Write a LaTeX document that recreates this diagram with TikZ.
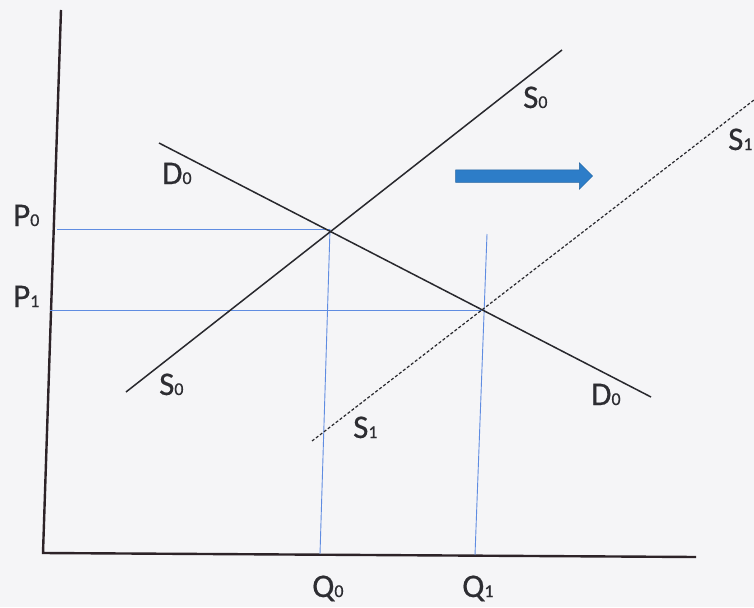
\documentclass[tikz,border=0pt]{standalone}
\usepackage{fontspec}
\setmainfont{Carlito}
\newfontfamily\labfont{Carlito}[FakeBold=0.6]
\usetikzlibrary{shapes.arrows}
\definecolor{bg}{RGB}{245,245,247}
\definecolor{axiscol}{RGB}{45,35,40}
\definecolor{curvecol}{RGB}{40,40,45}
\definecolor{guide}{RGB}{95,140,225}
\definecolor{arrowblue}{RGB}{45,125,200}
\definecolor{labcol}{RGB}{45,45,50}
\newcommand\sublab[2]{#1{\fontsize{18}{18}\selectfont #2}}
\tikzset{
  axisline/.style={draw=axiscol,line width=2.4pt},
  curve/.style={draw=curvecol,line width=1.5pt},
  shifted/.style={draw=curvecol,line width=1.2pt,dash pattern=on 3pt off 2pt},
  guideline/.style={draw=guide,line width=0.9pt},
  lab/.style={font=\labfont\fontsize{33}{33}\selectfont,text=labcol,inner sep=0pt,anchor=base west}
}
\begin{document}
\begin{tikzpicture}[x=1pt,y=-1pt]
\fill[bg] (0,0) rectangle (754,607);
\useasboundingbox (0,0) rectangle (754,607);
% axes
\coordinate (ytop) at (61,10);
\coordinate (origin) at (43,553);
\coordinate (xend) at (696,557);
\draw[axisline] (ytop) -- (origin) -- (xend);
% equilibrium points
\coordinate (E0) at (330,229);
\coordinate (E1) at (482,310);
% guide lines
\coordinate (P0a) at (57,229);
\coordinate (P1a) at (50,310);
\coordinate (Q0b) at (320,554);
\coordinate (Q1t) at (487,234);
\coordinate (Q1b) at (475,555);
\draw[guideline] (P0a) -- (E0);
\draw[guideline] (P1a) -- (E1);
\draw[guideline] (E0) -- (Q0b);
\draw[guideline] (Q1t) -- (Q1b);
% curves
\coordinate (S0a) at (126,392);
\coordinate (S0b) at (562,50);
\coordinate (D0a) at (159,143);
\coordinate (D0b) at (651,397);
\coordinate (S1a) at (312,441);
\coordinate (S1b) at (754,100);
\draw[curve] (S0a) -- (S0b);
\draw[curve] (D0a) -- (D0b);
\draw[shifted] (S1a) -- (S1b);
% shift arrow
\node[single arrow, fill=arrowblue, draw=arrowblue!80!black, line width=0.5pt,
      minimum height=137pt, single arrow head extend=7pt,
      single arrow tip angle=90, inner sep=0pt] (shift) at (521,176) {\rule{0pt}{12pt}};
% labels
\node[lab] (lS0t) at (523,108) {\sublab{S}{0}};
\node[lab] (lS1t) at (728,150) {\sublab{S}{1}};
\node[lab] (lD0t) at (162,184) {\sublab{D}{0}};
\node[lab] (lP0) at (13,226) {\sublab{P}{0}};
\node[lab] (lP1) at (13,307) {\sublab{P}{1}};
\node[lab] (lS0b) at (159,395) {\sublab{S}{0}};
\node[lab] (lD0b) at (591,405) {\sublab{D}{0}};
\node[lab] (lS1b) at (353,438) {\sublab{S}{1}};
\node[lab] (lQ0) at (312,597) {\sublab{Q}{0}};
\node[lab] (lQ1) at (462,597) {\sublab{Q}{1}};
\end{tikzpicture}
\end{document}
